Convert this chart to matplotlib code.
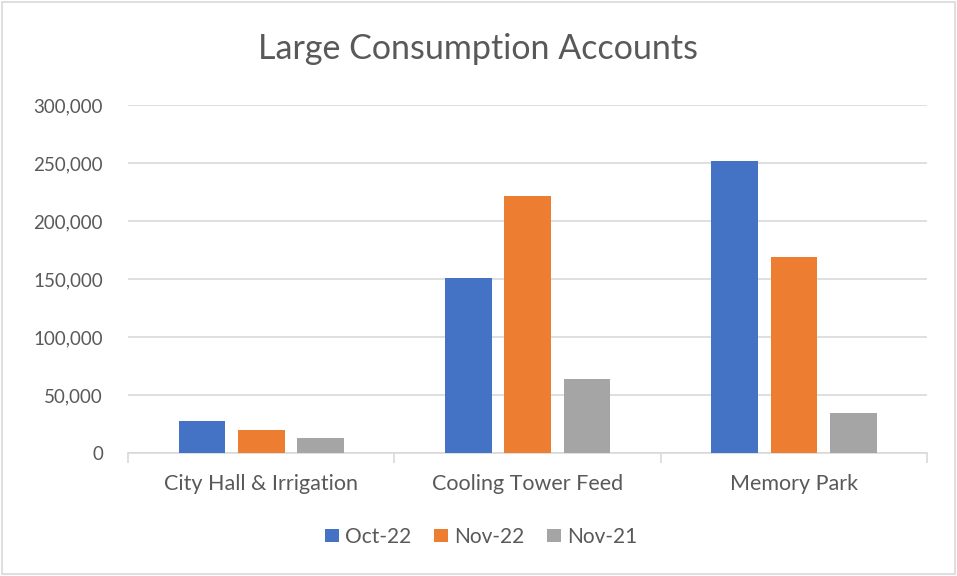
import numpy as np
import matplotlib.pyplot as plt
from matplotlib.patches import Rectangle

categories = ['City Hall & Irrigation', 'Cooling Tower Feed', 'Memory Park']
series_names = ['Oct-22', 'Nov-22', 'Nov-21']
oct22 = [27800, 151100, 252000]
nov22 = [19800, 221200, 169200]
nov21 = [12900, 63800, 34100]
yticks = [0, 50000, 100000, 150000, 200000, 250000, 300000]

colors = ['#4472C4', '#ED7D31', '#A5A5A5']
text_col = '#595959'
grid_col = '#D9D9D9'

plt.rcParams['font.family'] = ['Lato', 'DejaVu Sans']

fig = plt.figure(figsize=(9.57, 5.76), dpi=100)
ax = fig.add_axes([0.1338, 0.2135, 0.835, 0.6042])

x = np.arange(len(categories))
w = 0.175
step = 0.223
for i, (vals, name) in enumerate(zip([oct22, nov22, nov21], series_names)):
    ax.bar(x + (i - 1) * step, vals, w, color=colors[i], label=name, zorder=3)

ax.set_xlim(-0.5, 2.5)
ax.set_ylim(0, 300000)
ax.set_yticks(yticks)
ax.set_yticklabels([f'{v:,}' for v in yticks])
ax.set_xticks(x)
ax.set_xticklabels(categories)
ax.set_xticks([-0.5, 0.5, 1.5, 2.5], minor=True)
ax.tick_params(axis='x', which='major', length=0, pad=15, labelsize=15.5, labelcolor=text_col)
ax.tick_params(axis='x', which='minor', length=7, color=grid_col, width=1.2)
ax.tick_params(axis='y', length=0, pad=18, labelsize=13.5, labelcolor=text_col)
ax.grid(axis='y', color=grid_col, linewidth=1.2, zorder=0)
for s in ['top', 'right', 'left']:
    ax.spines[s].set_visible(False)
ax.spines['bottom'].set_color(grid_col)
ax.spines['bottom'].set_linewidth(1.2)

fig.text(0.4995, 0.915, 'Large Consumption Accounts', ha='center', va='center',
         fontsize=24.5, color=text_col)

leg = fig.legend(loc='center', bbox_to_anchor=(0.503, 0.068), ncol=3, frameon=False,
                 fontsize=15, handlelength=0.65, handleheight=0.65, handletextpad=0.3,
                 columnspacing=1.1)
for t in leg.get_texts():
    t.set_color(text_col)

fig.patches.append(Rectangle((0.002, 0.003), 0.996, 0.994, transform=fig.transFigure,
                             fill=False, edgecolor='#D9D9D9', linewidth=1.2))

fig.savefig('out.png', dpi=100)
